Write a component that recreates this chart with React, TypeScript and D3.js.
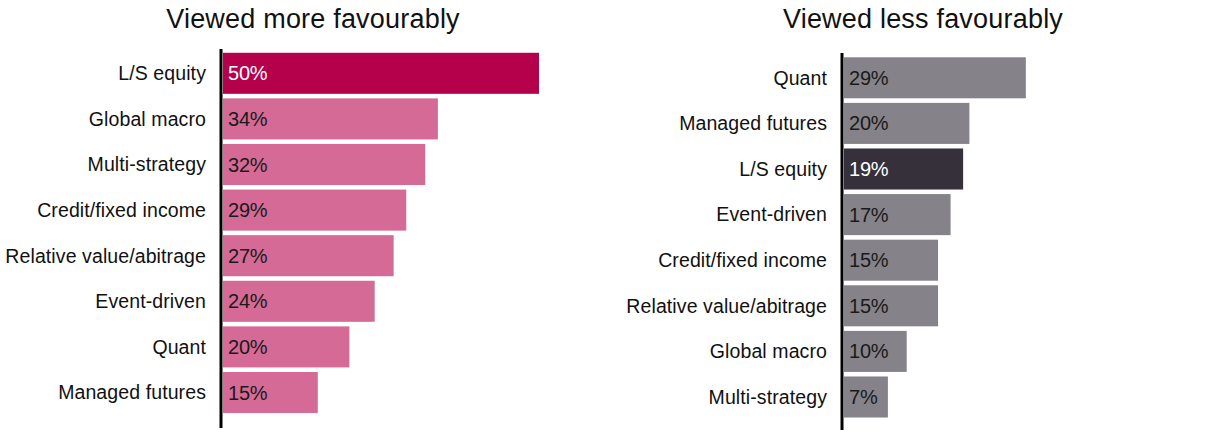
import { useEffect, useRef } from 'react'
import * as d3 from 'd3'

const W = 1211, H = 433

const moreCats = ['L/S equity', 'Global macro', 'Multi-strategy', 'Credit/fixed income', 'Relative value/abitrage', 'Event-driven', 'Quant', 'Managed futures']
const moreVals = [50, 34, 32, 29, 27, 24, 20, 15]
const lessCats = ['Quant', 'Managed futures', 'L/S equity', 'Event-driven', 'Credit/fixed income', 'Relative value/abitrage', 'Global macro', 'Multi-strategy']
const lessVals = [29, 20, 19, 17, 15, 15, 10, 7]

const FONT = '"Liberation Sans", Arial, sans-serif'

interface Panel {
  title: string
  titleX: number
  cats: string[]
  vals: number[]
  axisX: number
  pxPerPct: number
  y0: number
  axisTop: number
  axisBottom: number
  color: string
  highlight: string
}

const panels: Panel[] = [
  { title: 'Viewed more favourably', titleX: 313, cats: moreCats, vals: moreVals, axisX: 221, pxPerPct: 6.32, y0: 50.5, axisTop: 49, axisBottom: 428, color: '#d46a95', highlight: '#b5004b' },
  { title: 'Viewed less favourably', titleX: 923, cats: lessCats, vals: lessVals, axisX: 842, pxPerPct: 6.27, y0: 55, axisTop: 53, axisBottom: 430, color: '#858289', highlight: '#36303b' },
]

export default function App() {
  const svgRef = useRef<SVGSVGElement>(null)

  useEffect(() => {
    const svg = d3.select(svgRef.current!)
    svg.selectAll('*').remove()

    panels.forEach(p => {
      const maxV = d3.max(p.vals) ?? 0
      const x = d3.scaleLinear().domain([0, maxV]).range([p.axisX + 2, p.axisX + 2 + maxV * p.pxPerPct])
      const y = d3.scaleBand<string>().domain(p.cats).range([p.y0, p.y0 + 45.6 * 8]).paddingInner(0.1).paddingOuter(0.05)

      const g = svg.append('g')

      // title
      g.append('text').attr('x', p.titleX).attr('y', 28).attr('text-anchor', 'middle')
        .attr('font-family', FONT).attr('font-size', 27).attr('letter-spacing', 0.2)
        .attr('fill', '#111').text(p.title)

      // bars
      g.selectAll('rect.bar').data(p.cats).join('rect')
        .attr('x', x(0)).attr('y', d => y(d)!)
        .attr('width', (_, i) => x(p.vals[i]) - x(0))
        .attr('height', y.bandwidth())
        .attr('fill', d => d === 'L/S equity' ? p.highlight : p.color)

      // category labels
      g.selectAll('text.cat').data(p.cats).join('text')
        .attr('x', p.axisX - 15).attr('y', d => y(d)! + y.bandwidth() / 2)
        .attr('dy', '0.35em').attr('text-anchor', 'end')
        .attr('font-family', FONT).attr('font-size', 19.5).attr('letter-spacing', 0.1)
        .attr('fill', '#111').text(d => d)

      // value labels
      g.selectAll('text.val').data(p.cats).join('text')
        .attr('x', x(0) + 5).attr('y', d => y(d)! + y.bandwidth() / 2)
        .attr('dy', '0.35em')
        .attr('font-family', FONT).attr('font-size', 20).attr('letter-spacing', -0.2)
        .attr('fill', d => d === 'L/S equity' ? '#fff' : '#1a1a1a')
        .text((_, i) => `${p.vals[i]}%`)

      // axis line
      g.append('line').attr('x1', p.axisX).attr('x2', p.axisX)
        .attr('y1', p.axisTop).attr('y2', p.axisBottom)
        .attr('stroke', '#000').attr('stroke-width', 3)
    })
  }, [])

  return <svg ref={svgRef} width={W} height={H} style={{ position: 'absolute', left: 0, top: 0, background: '#fff' }} />
}
